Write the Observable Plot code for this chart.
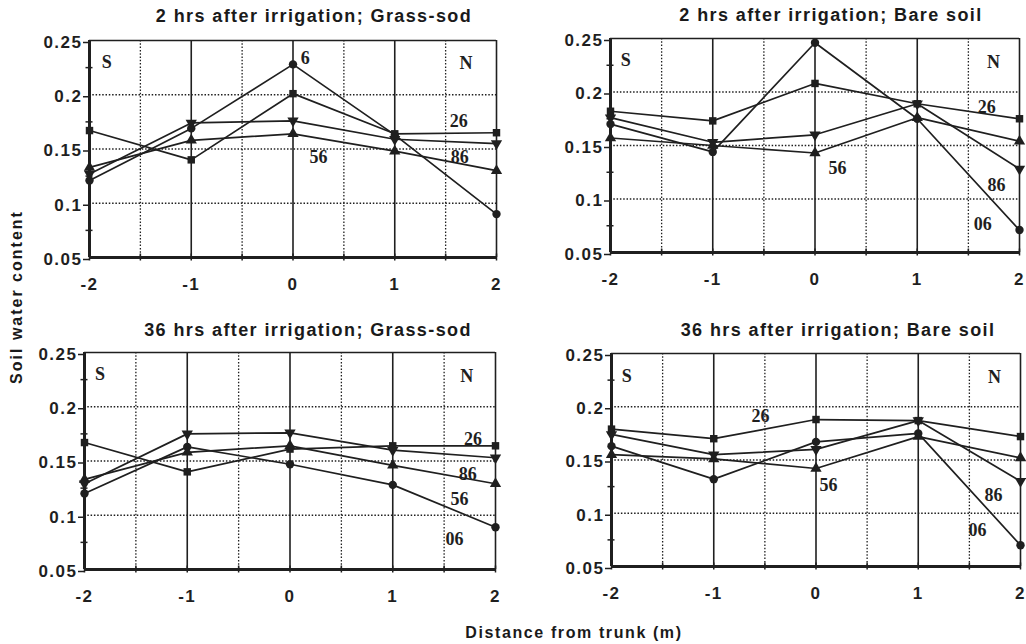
<!DOCTYPE html>
<html>
<head>
<meta charset="utf-8">
<script src="https://cdn.jsdelivr.net/npm/d3@7"></script>
<script src="https://cdn.jsdelivr.net/npm/@observablehq/plot@0.6"></script>
<style>
  html, body { margin: 0; padding: 0; background: #fff; }
  #chart { position: relative; width: 1026px; height: 644px; overflow: hidden; background: #fff; }
  .panel { position: absolute; }
  .title { position: absolute; font: bold 18px "Liberation Sans", Arial, sans-serif; line-height: 20px;
           letter-spacing: 1.4px; color: #1a1a1a; white-space: nowrap; transform: translateX(-50%); }
  .ylab { position: absolute; font: bold 16px "Liberation Sans", Arial, sans-serif; line-height: 19px;
          letter-spacing: 2px; color: #1a1a1a; white-space: nowrap; transform: translate(-50%, -50%) rotate(-90deg); }
  .xlab { position: absolute; font: bold 16px "Liberation Sans", Arial, sans-serif; line-height: 19px;
          letter-spacing: 1.6px; color: #1a1a1a; white-space: nowrap; transform: translateX(-50%); }
  g[aria-label="y-axis tick label"], g[aria-label="x-axis tick label"] { letter-spacing: 1.5px; }
</style>
</head>
<body>
<div id="chart"></div>
<script>
// ---------- data ----------
const distances = [-2, -1, 0, 1, 2];
const series = ["06", "26", "56", "86"];

// 2 hrs after irrigation; Grass-sod
const grass2_06 = [0.121, 0.169, 0.228, 0.163, 0.090];
const grass2_26 = [0.167, 0.140, 0.201, 0.164, 0.165];
const grass2_56 = [0.133, 0.158, 0.164, 0.148, 0.130];
const grass2_86 = [0.127, 0.174, 0.176, 0.159, 0.155];

// 2 hrs after irrigation; Bare soil
const bare2_06 = [0.170, 0.144, 0.246, 0.175, 0.071];
const bare2_26 = [0.182, 0.173, 0.208, 0.189, 0.175];
const bare2_56 = [0.157, 0.150, 0.143, 0.176, 0.154];
const bare2_86 = [0.176, 0.153, 0.160, 0.189, 0.128];

// 36 hrs after irrigation; Grass-sod
const grass36_06 = [0.120, 0.163, 0.147, 0.128, 0.089];
const grass36_26 = [0.167, 0.140, 0.161, 0.164, 0.164];
const grass36_56 = [0.133, 0.158, 0.164, 0.146, 0.129];
const grass36_86 = [0.129, 0.175, 0.176, 0.160, 0.153];

// 36 hrs after irrigation; Bare soil
const bare36_06 = [0.163, 0.132, 0.167, 0.175, 0.070];
const bare36_26 = [0.179, 0.170, 0.188, 0.187, 0.172];
const bare36_56 = [0.155, 0.151, 0.142, 0.172, 0.152];
const bare36_86 = [0.174, 0.155, 0.160, 0.187, 0.130];

const panelTitles = [
  "2 hrs after irrigation; Grass-sod",
  "2 hrs after irrigation; Bare soil",
  "36 hrs after irrigation; Grass-sod",
  "36 hrs after irrigation; Bare soil"
];

const yTickValues = [0.05, 0.1, 0.15, 0.2, 0.25];
const yTickLabels = ["0.05", "0.1", "0.15", "0.2", "0.25"];
const yMinorTicks = [0.075, 0.125, 0.175, 0.225];
const yGridDotted = [0.1, 0.15, 0.2];
const xTickValues = [-2, -1, 0, 1, 2];
const xTickLabels = ["-2", "-1", "0", "1", "2"];
const xGridDotted = [-1.5, -0.5, 0.5, 1.5];
const xGridSolid = [-1, 0, 1, 2];
const xAllTicks = [-2, -1.5, -1, -0.5, 0, 0.5, 1, 1.5, 2];

const labels1 = [
  {text: "S", x: -1.83, y: 0.230}, {text: "N", x: 1.70, y: 0.229},
  {text: "6", x: 0.12, y: 0.234}, {text: "26", x: 1.63, y: 0.176},
  {text: "86", x: 1.64, y: 0.142}, {text: "56", x: 0.25, y: 0.142}
];
const labels2 = [
  {text: "S", x: -1.85, y: 0.230}, {text: "N", x: 1.745, y: 0.228},
  {text: "26", x: 1.68, y: 0.1855}, {text: "56", x: 0.22, y: 0.129},
  {text: "86", x: 1.775, y: 0.113}, {text: "06", x: 1.64, y: 0.0766}
];
const labels3 = [
  {text: "S", x: -1.85, y: 0.2297}, {text: "N", x: 1.72, y: 0.228},
  {text: "26", x: 1.78, y: 0.170}, {text: "86", x: 1.73, y: 0.1376},
  {text: "56", x: 1.65, y: 0.1145}, {text: "06", x: 1.60, y: 0.0777}
];
const labels4 = [
  {text: "S", x: -1.85, y: 0.229}, {text: "N", x: 1.745, y: 0.228},
  {text: "26", x: -0.543, y: 0.191}, {text: "56", x: 0.122, y: 0.126},
  {text: "86", x: 1.735, y: 0.1167}, {text: "06", x: 1.58, y: 0.0838}
];

// ---------- layout ----------
const panels = [
  {values: [grass2_06, grass2_26, grass2_56, grass2_86], labels: labels1, left: 0, top: 0,
   mL: 89, mR: 17, mT: 40, mB: 65, titleX: 314, titleY: 6},
  {values: [bare2_06, bare2_26, bare2_56, bare2_86], labels: labels2, left: 513, top: 0,
   mL: 97, mR: 7, mT: 38, mB: 70, titleX: 831, titleY: 5},
  {values: [grass36_06, grass36_26, grass36_56, grass36_86], labels: labels3, left: 0, top: 322,
   mL: 84, mR: 18, mT: 30, mB: 75, titleX: 308, titleY: 320},
  {values: [bare36_06, bare36_26, bare36_56, bare36_86], labels: labels4, left: 513, top: 322,
   mL: 98, mR: 6, mT: 31, mB: 78, titleX: 838, titleY: 320}
];

const ink = "#1f1f1f";
const chart = document.getElementById("chart");

panels.forEach((p, k) => {
  const data = [];
  series.forEach((s, i) => p.values[i].forEach((v, j) => data.push({series: s, x: distances[j], y: v})));

  const svg = Plot.plot({
    width: 513, height: 322,
    marginLeft: p.mL, marginRight: p.mR, marginTop: p.mT, marginBottom: p.mB,
    style: {background: "white", color: ink, fontFamily: "'Liberation Sans', Arial, sans-serif", overflow: "visible"},
    x: {domain: [-2, 2], label: null},
    y: {domain: [0.05, 0.25], label: null},
    symbol: {domain: series, range: ["circle", "square", "triangle", "triangle"]},
    marks: [
      Plot.ruleX(xGridDotted, {stroke: ink, strokeWidth: 1.3, strokeDasharray: "1.5,1.8"}),
      Plot.ruleY(yGridDotted, {stroke: ink, strokeWidth: 1.3, strokeDasharray: "1.5,1.8"}),
      Plot.ruleX(xGridSolid, {stroke: ink, strokeWidth: 1.6}),
      Plot.ruleY([0.25], {stroke: ink, strokeWidth: 1.6}),
      Plot.axisY({ticks: yMinorTicks, tickSize: 7, dx: 3.5, tickFormat: () => "", label: null, strokeWidth: 1.5}),
      Plot.axisY({ticks: yTickValues, tickSize: 6, tickPadding: 1, dy: 2, strokeWidth: 1.5, label: null,
                  tickFormat: d => yTickLabels[yTickValues.indexOf(d)],
                  fontSize: 17, fontWeight: "bold"}),
      Plot.axisX({ticks: xAllTicks, tickSize: 7, dy: -3.5, tickFormat: () => "", label: null, strokeWidth: 1.5}),
      Plot.axisX({ticks: xTickValues, tickSize: 0, tickPadding: 20, label: null,
                  tickFormat: d => xTickLabels[xTickValues.indexOf(d)],
                  fontSize: 17, fontWeight: "bold"}),
      Plot.ruleX([-2], {stroke: ink, strokeWidth: 3}),
      Plot.ruleY([0.05], {stroke: ink, strokeWidth: 3}),
      Plot.line(data, {x: "x", y: "y", z: "series", stroke: ink, strokeWidth: 1.7}),
      Plot.dot(data, {x: "x", y: "y", symbol: "series", fill: ink, r: 4.2,
                      rotate: d => d.series === "86" ? 180 : 0}),
      Plot.text(p.labels, {x: "x", y: "y", text: "text", fill: ink,
                           fontFamily: "'Liberation Serif', 'Times New Roman', serif",
                           fontSize: 18, fontWeight: "bold"})
    ]
  });
  const wrap = document.createElement("div");
  wrap.className = "panel";
  wrap.style.left = p.left + "px";
  wrap.style.top = p.top + "px";
  wrap.appendChild(svg);
  chart.appendChild(wrap);

  const t = document.createElement("div");
  t.className = "title";
  t.textContent = panelTitles[k];
  t.style.left = p.titleX + "px";
  t.style.top = p.titleY + "px";
  chart.appendChild(t);
});

const yl = document.createElement("div");
yl.className = "ylab";
yl.textContent = "Soil water content";
yl.style.left = "16px";
yl.style.top = "297px";
chart.appendChild(yl);

const xl = document.createElement("div");
xl.className = "xlab";
xl.textContent = "Distance from trunk (m)";
xl.style.left = "574px";
xl.style.top = "623px";
chart.appendChild(xl);
</script>
</body>
</html>
